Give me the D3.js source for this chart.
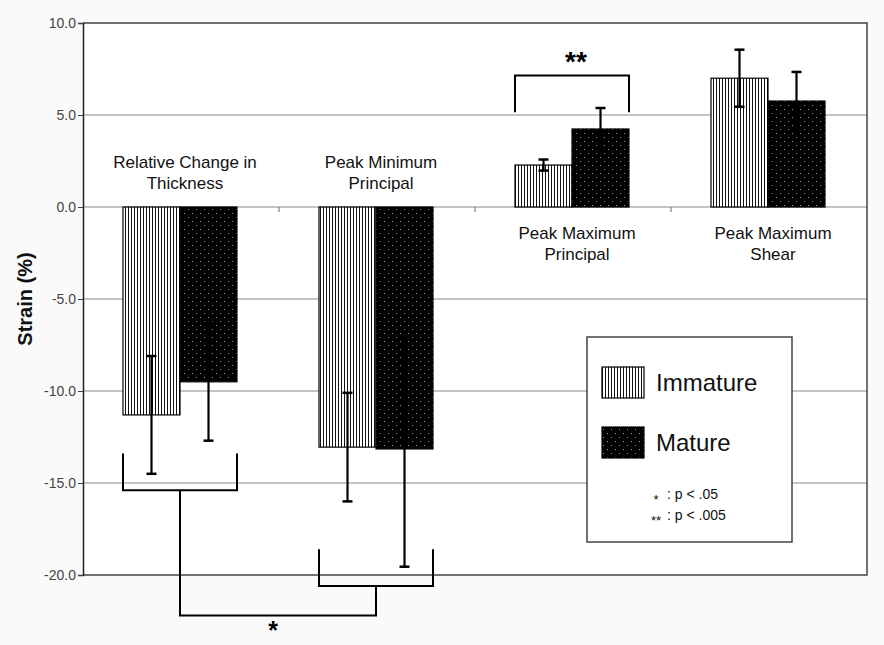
<!DOCTYPE html>
<html>
<head>
<meta charset="utf-8">
<script src="https://cdn.jsdelivr.net/npm/d3@7"></script>
<style>
  html, body { margin: 0; padding: 0; background: #fafafa; }
  svg { display: block; font-family: "Liberation Sans", Arial, sans-serif; }
</style>
</head>
<body>
<div id="chart"></div>
<script>
// chart values
var categories = ["Relative Change in Thickness", "Peak Minimum Principal", "Peak Maximum Principal", "Peak Maximum Shear"];
var categoryLines = [["Relative Change in", "Thickness"], ["Peak Minimum", "Principal"], ["Peak Maximum", "Principal"], ["Peak Maximum", "Shear"]];
var immature = [-11.3, -13.05, 2.28, 7.0];
var immatureErr = [3.2, 2.95, 0.3, 1.55];
var mature = [-9.5, -13.15, 4.24, 5.76];
var matureErr = [3.2, 6.4, 1.14, 1.58];
var yTicks = [10, 5, 0, -5, -10, -15, -20];
var seriesNames = ["Immature", "Mature"];

function drawChart(){

    var width = 884, height = 645;
    var margin = { left: 83, right: 17, top: 23, bottom: 70 };
    var innerW = width - margin.left - margin.right,
        innerH = height - margin.top - margin.bottom;

    var svg = d3.select("#chart")
        .append("svg")
            .attr("width", width)
            .attr("height", height);

    var defs = svg.append("defs");

    // vertical stripes for immature
    var stripes = defs.append("pattern")
        .attr("id", "stripes")
        .attr("patternUnits", "userSpaceOnUse")
        .attr("width", 3)
        .attr("height", 10);
    stripes.append("rect").attr("width", 3).attr("height", 10).attr("fill", "#fff");
    stripes.append("rect").attr("x", 0).attr("width", 1).attr("height", 10).attr("fill", "#111");

    // dotted black for mature
    var dots = defs.append("pattern")
        .attr("id", "dots")
        .attr("patternUnits", "userSpaceOnUse")
        .attr("width", 8)
        .attr("height", 8);
    dots.append("rect").attr("width", 8).attr("height", 8).attr("fill", "#000");
    dots.append("rect").attr("x", 1).attr("y", 2).attr("width", 1).attr("height", 1).attr("fill", "#9a9a9a");
    dots.append("rect").attr("x", 5).attr("y", 6).attr("width", 1).attr("height", 1).attr("fill", "#9a9a9a");

    var g = svg.append("g")
        .attr("transform", "translate(" + margin.left + "," + margin.top + ")");

    g.append("rect")
        .attr("width", innerW)
        .attr("height", innerH)
        .attr("fill", "#fff");

    var x = d3.scaleBand()
        .domain(categories)
        .range([0, innerW])
        .paddingInner(0)
        .paddingOuter(0);

    var x1 = d3.scaleBand()
        .domain(seriesNames)
        .range([40, x.bandwidth() - 42]);

    var y = d3.scaleLinear()
        .domain([-20, 10])
        .range([innerH, 0]);

    // grid lines
    g.append("g")
        .selectAll("line")
        .data(yTicks.filter(function(d){ return d !== 10 && d !== -20; }))
        .enter()
        .append("line")
            .attr("x1", 0)
            .attr("x2", innerW)
            .attr("y1", function(d){ return y(d); })
            .attr("y2", function(d){ return y(d); })
            .attr("stroke", "#8a8a8a")
            .attr("stroke-width", 1.2);

    // frame (top, right, bottom)
    g.append("path")
        .attr("d", "M0,0H" + innerW + "V" + innerH + "H0")
        .attr("fill", "none")
        .attr("stroke", "#444")
        .attr("stroke-width", 1.5);

    // y axis
    var fmt = d3.format(".1f");
    var yAxis = g.append("g")
        .attr("class", "y axis")
        .call(d3.axisLeft(y).tickValues(yTicks)
            .tickFormat(function(d){ return fmt(d).replace("\u2212", "-"); })
            .tickSize(5).tickPadding(2));
    yAxis.select(".domain").attr("stroke", "#222").attr("stroke-width", 1.5);
    yAxis.selectAll(".tick line").attr("stroke", "#444");
    yAxis.selectAll("text")
        .attr("font-size", "14px")
        .attr("font-family", "Liberation Sans, Arial, sans-serif")
        .attr("fill", "#444");

    // small ticks on zero line at category boundaries
    g.append("g")
        .selectAll("line")
        .data(categories.slice(1))
        .enter()
        .append("line")
            .attr("x1", function(d){ return x(d); })
            .attr("x2", function(d){ return x(d); })
            .attr("y1", y(0))
            .attr("y2", y(0) + 5)
            .attr("stroke", "#666");

    svg.append("text")
        .attr("transform", "translate(32," + (margin.top + y(-5)) + ") rotate(-90)")
        .attr("text-anchor", "middle")
        .attr("font-size", "20px")
        .attr("font-weight", "bold")
        .attr("fill", "#111")
        .text("Strain (%)");

    // bars
    var rows = categories.map(function(c, i){
        return [
            { cat: c, s: "Immature", v: immature[i], e: immatureErr[i] },
            { cat: c, s: "Mature", v: mature[i], e: matureErr[i] }
        ];
    });
    var flat = d3.merge(rows);

    g.append("g")
        .selectAll("rect")
        .data(flat)
        .enter()
        .append("rect")
            .attr("x", function(d){ return x(d.cat) + x1(d.s); })
            .attr("y", function(d){ return y(Math.max(0, d.v)); })
            .attr("width", x1.bandwidth())
            .attr("height", function(d){ return Math.abs(y(d.v) - y(0)); })
            .attr("fill", function(d){ return d.s === "Immature" ? "url(#stripes)" : "url(#dots)"; })
            .attr("stroke", "#000")
            .attr("stroke-width", 1.2);

    // error bars
    var err = g.append("g")
        .selectAll("g")
        .data(flat)
        .enter()
        .append("g")
            .attr("transform", function(d){ return "translate(" + (x(d.cat) + x1(d.s) + x1.bandwidth() / 2) + ",0)"; });
    err.append("line")
        .attr("y1", function(d){ return y(d.v + d.e); })
        .attr("y2", function(d){ return y(d.v - d.e); })
        .attr("stroke", "#000")
        .attr("stroke-width", 2.2);
    err.append("line")
        .attr("x1", -5).attr("x2", 5)
        .attr("y1", function(d){ return y(d.v + d.e); })
        .attr("y2", function(d){ return y(d.v + d.e); })
        .attr("stroke", "#000")
        .attr("stroke-width", 2.5);
    err.append("line")
        .attr("x1", -5).attr("x2", 5)
        .attr("y1", function(d){ return y(d.v - d.e); })
        .attr("y2", function(d){ return y(d.v - d.e); })
        .attr("stroke", "#000")
        .attr("stroke-width", 2.5);

    // category labels
    var labels = g.append("g")
        .selectAll("text")
        .data(categories)
        .enter()
        .append("text")
            .attr("text-anchor", "middle")
            .attr("font-size", "17px")
            .attr("fill", "#111")
            .attr("transform", function(d, i){
                var yy = immature[i] < 0 ? y(0) - 39 : y(0) + 32;
                return "translate(" + (x(d) + x.bandwidth() / 2 + 4) + "," + yy + ")";
            });
    labels.selectAll("tspan")
        .data(function(d, i){ return categoryLines[i]; })
        .enter()
        .append("tspan")
            .attr("x", 0)
            .attr("dy", function(d, i){ return i === 0 ? 0 : 21; })
            .text(function(d){ return d; });

    // significance brackets
    var bx = function(c){ return [x(c) + x1("Immature"), x(c) + x1("Mature") + x1.bandwidth()]; };
    var br = g.append("g")
        .attr("fill", "none")
        .attr("stroke", "#000")
        .attr("stroke-width", 2);

    var c1 = bx(categories[0]), c2 = bx(categories[1]), c3 = bx(categories[2]);
    br.append("path")
        .attr("d", "M" + c1[0] + "," + y(-13.4) + "V" + y(-15.4) + "H" + c1[1] + "V" + y(-13.4));
    br.append("path")
        .attr("d", "M" + c2[0] + "," + y(-18.6) + "V" + y(-20.6) + "H" + c2[1] + "V" + y(-18.6));
    br.append("path")
        .attr("d", "M" + ((c1[0] + c1[1]) / 2) + "," + y(-15.4) + "V" + y(-22.2) +
                   "H" + ((c2[0] + c2[1]) / 2) + "V" + y(-20.6));
    br.append("path")
        .attr("d", "M" + c3[0] + "," + y(5.15) + "V" + y(7.15) + "H" + c3[1] + "V" + y(5.15));

    g.append("text")
        .attr("x", ((c1[0] + c1[1]) / 2 + (c2[0] + c2[1]) / 2) / 2 - 5)
        .attr("y", height - margin.top - 6)
        .attr("text-anchor", "middle")
        .attr("font-size", "25px")
        .attr("font-weight", "bold")
        .attr("fill", "#000")
        .text("*");

    g.append("text")
        .attr("x", (c3[0] + c3[1]) / 2 + 4)
        .attr("y", y(7.15) - 4)
        .attr("text-anchor", "middle")
        .attr("font-size", "28px")
        .attr("font-weight", "bold")
        .attr("fill", "#000")
        .text("**");

    // legend
    var lg = svg.append("g").attr("transform", "translate(587,337)");
    lg.append("rect")
        .attr("width", 205)
        .attr("height", 205)
        .attr("fill", "#fff")
        .attr("stroke", "#444")
        .attr("stroke-width", 1.5);
    var items = lg.selectAll("g.item")
        .data(seriesNames)
        .enter()
        .append("g")
            .attr("class", "item")
            .attr("transform", function(d, i){ return "translate(15," + (30 + i * 60) + ")"; });
    items.append("rect")
        .attr("width", 42)
        .attr("height", 31)
        .attr("fill", function(d){ return d === "Immature" ? "url(#stripes)" : "url(#dots)"; })
        .attr("stroke", "#000")
        .attr("stroke-width", 1.2);
    items.append("text")
        .attr("x", 54)
        .attr("y", 24)
        .attr("font-size", "24px")
        .attr("fill", "#111")
        .text(function(d){ return d; });

    var notes = [["*", ": p < .05"], ["**", ": p < .005"]];
    notes.forEach(function(n, i){
        lg.append("text")
            .attr("x", 69)
            .attr("y", 167 + i * 21)
            .attr("text-anchor", "middle")
            .attr("font-size", "13px")
            .attr("fill", "#111")
            .text(n[0]);
        lg.append("text")
            .attr("x", 80)
            .attr("y", 162 + i * 21)
            .attr("font-size", "14px")
            .attr("fill", "#111")
            .text(n[1]);
    });
}

drawChart();
</script>
</body>
</html>
